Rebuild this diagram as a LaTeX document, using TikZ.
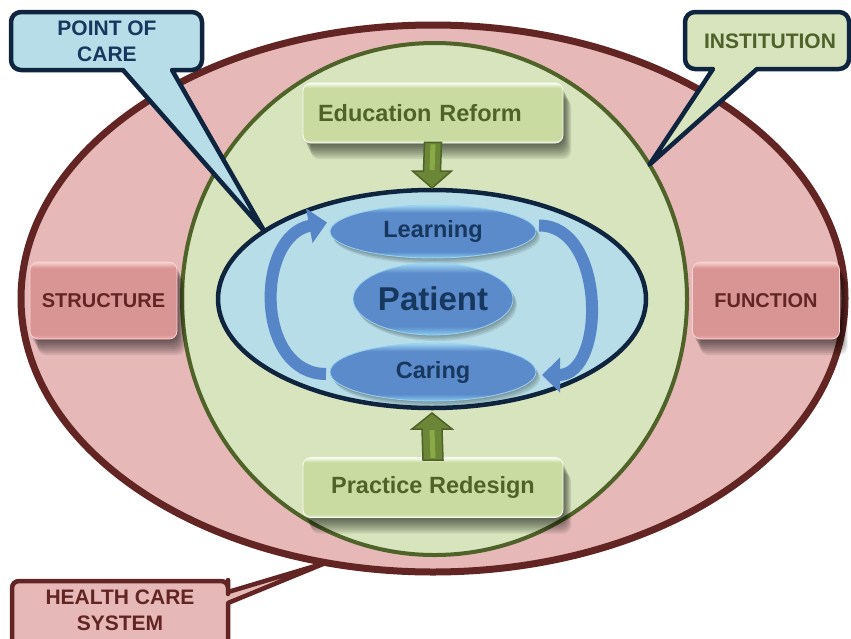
\documentclass[tikz,border=0pt]{standalone}
\usepackage{fontspec}
\setmainfont{Liberation Sans}
\usetikzlibrary{shapes.geometric,calc,arrows.meta}

\definecolor{redfill}{HTML}{E6B9B8}
\definecolor{redline}{HTML}{632523}
\definecolor{greenfill}{HTML}{D7E4BD}
\definecolor{greenline}{HTML}{4F6228}
\definecolor{bluefill}{HTML}{B7DEE8}
\definecolor{navy}{HTML}{0F243E}
\definecolor{navytext}{HTML}{17375E}
\definecolor{ovalmid}{HTML}{5B8BCA}
\definecolor{ovaltop}{HTML}{A3D8F3}
\definecolor{ovalbot}{HTML}{86CBF0}
\definecolor{ovaledge}{HTML}{9AD3F2}
\definecolor{gmid}{HTML}{C9DBA1}
\definecolor{gtop}{HTML}{F9FCF2}
\definecolor{gbot}{HTML}{E7F0D4}
\definecolor{rmid}{HTML}{D99594}
\definecolor{rtop}{HTML}{F8D3D2}
\definecolor{rbot}{HTML}{F2ADAC}
\definecolor{garrowfill}{HTML}{6A8636}
\definecolor{garrowlight}{HTML}{8AAA47}
\definecolor{curvearrow}{HTML}{5686C7}

\pgfdeclareverticalshading{ovalshade}{100bp}{color(0bp)=(ovalbot); color(25bp)=(ovalbot); color(31bp)=(ovalmid); color(68bp)=(ovalmid); color(75bp)=(ovaltop); color(100bp)=(ovaltop)}
\pgfdeclareverticalshading{greenshade}{100bp}{color(0bp)=(gbot); color(25bp)=(gbot); color(28bp)=(gmid); color(71bp)=(gmid); color(75bp)=(gtop); color(100bp)=(gtop)}
\pgfdeclareverticalshading{redshade}{100bp}{color(0bp)=(rbot); color(25bp)=(rbot); color(28bp)=(rmid); color(71bp)=(rmid); color(75bp)=(rtop); color(100bp)=(rtop)}

\begin{document}
\begin{tikzpicture}[x=1pt,y=-1pt,
  bigell/.style={ellipse, inner sep=0pt, outer sep=0pt},
  shstep/.style={preaction={fill=black, fill opacity=0.085, draw=none, transform canvas={shift={(#1)}}}},
  boxshadow/.style={shstep={1pt,-2pt}, shstep={2pt,-4pt}, shstep={3pt,-6pt}, shstep={4pt,-8pt},
    shstep={5pt,-10pt}, shstep={6pt,-12pt}, shstep={7pt,-14pt}, shstep={8pt,-16pt}},
  ovalshadow/.style={shstep={1pt,-1.5pt}, shstep={2pt,-3pt}, shstep={3pt,-4.5pt}, shstep={4pt,-6pt}},
  oval/.style={ellipse, ovalshadow, shading=ovalshade, draw=ovaledge, line width=0.8pt, inner sep=0pt, outer sep=0pt,
    text=navytext, font=\bfseries\fontsize{23.5}{28}\selectfont},
  gbox/.style={rounded corners=8pt, boxshadow, shading=greenshade, draw=gtop, line width=0.8pt, inner sep=0pt,
    minimum width=260pt, minimum height=60pt, text=greenline, font=\bfseries\fontsize{23.5}{28}\selectfont},
  rbox/.style={rounded corners=8pt, boxshadow, shading=redshade, draw=rtop, line width=0.8pt, inner sep=0pt,
    minimum width=147pt, minimum height=77pt, text=redline, font=\bfseries\fontsize{20}{24}\selectfont},
  callout/.style={line width=4.5pt, line join=round},
  calltext/.style={font=\bfseries\fontsize{21}{26}\selectfont, align=center},
  garrow/.style={fill=garrowfill, draw=greenline, line width=1.5pt, line join=miter},
  carrow/.style={draw=curvearrow, line width=12pt, -{Triangle[width=34pt,length=18pt]}}
]
\useasboundingbox (0,0) rectangle (851,638);
\clip (0,0) rectangle (851,638);
\fill[white] (0,0) rectangle (851,638);

% nested ellipses
\node[bigell, fill=redfill, draw=redline, line width=7pt, minimum width=824pt, minimum height=547pt] (hcs) at (433,298.5) {};
\node[bigell, fill=greenfill, draw=greenline, line width=4pt, minimum width=505pt, minimum height=512pt] (inst) at (434.5,299) {};
\node[bigell, fill=bluefill, draw=navy, line width=4.5pt, minimum width=428pt, minimum height=218pt] (poc) at (432,299) {};

% green boxes
\node[gbox, text width=230pt, align=left] (edu) at (433,113) {Education Reform};
\node[gbox] (prac) at (433,487.5) {Practice Redesign};

% green block arrows
\coordinate (ds) at (edu.south);
\coordinate (dt) at ($(poc.north)+(0,-2)$);
\draw[garrow] ($(ds)+(-8.5,-1)$) -- ($(dt)+(-8.5,-17)$) -- ($(dt)+(-19.5,-17)$) -- (dt)
  -- ($(dt)+(19.5,-17)$) -- ($(dt)+(8.5,-17)$) -- ($(ds)+(8.5,-1)$) -- cycle;
\draw[garrowlight, line width=5pt] ($(ds)+(0,1)$) -- ($(dt)+(0,-18)$);

\coordinate (us) at ($(prac.north)+(0,3)$);
\coordinate (ut) at ($(poc.south)+(0,5)$);
\draw[garrow] ($(us)+(-10,0)$) -- ($(ut)+(-10,16)$) -- ($(ut)+(-20,16)$) -- (ut)
  -- ($(ut)+(20,16)$) -- ($(ut)+(10,16)$) -- ($(us)+(10,0)$) -- cycle;
\draw[garrowlight, line width=5pt] ($(us)+(0,-2)$) -- ($(ut)+(0,17)$);

% red boxes
\node[rbox] (struct) at (103.5,300.5) {STRUCTURE};
\node[rbox] (func) at (766,300.5) {FUNCTION};

% inner ovals
\node[oval, minimum width=206pt, minimum height=53pt] (learn) at (433,231.5) {Learning};
\node[oval, minimum width=160pt, minimum height=72pt, font=\bfseries\fontsize{33}{38}\selectfont] (pat) at (433,299) {Patient};
\node[oval, minimum width=206pt, minimum height=58pt] (care) at (433,372) {Caring};

% curved cycle arrows
\draw[carrow] ($(care.west)+(-4,2)$) .. controls (255,374) and (255,236) .. ($(learn.west)+(-3,-9)$);
\draw[carrow] ($(learn.east)+(3,-6)$) .. controls (606,225) and (606,375) .. ($(care.east)+(6,3)$);

% callout: POINT OF CARE
\draw[callout, fill=bluefill, draw=navy] (poc.158.7) -- (172,70) -- (185,70) [rounded corners=10pt] -- (202,70)
  -- (202,12) -- (11,12) -- (11,70) -- (60,70) [sharp corners] -- (123,70) -- cycle;
\node[calltext, text=navytext] (poctext) at (107,41.5) {POINT OF\\CARE};

% callout: INSTITUTION
\draw[callout, fill=greenfill, draw=navy] (inst.32.6) -- (713,69) -- (700,69) [rounded corners=10pt] -- (685,69)
  -- (685,12) -- (849,12) -- (849,69) -- (790,69) [sharp corners] -- (757,69) -- cycle;
\node[calltext, text=greenline] (insttext) at (770,41) {INSTITUTION};

% callout: HEALTH CARE SYSTEM
\draw[callout, fill=redfill, draw=redline] (hcs.248.6) -- (228,603) -- (228,620) [rounded corners=7pt] -- (228,650)
  -- (12,650) -- (12,581) -- (228,581) -- (228,587) [sharp corners] -- (228,592) -- cycle;
\node[calltext, text=redline] (hcstext) at (120,610) {HEALTH CARE\\SYSTEM};
\end{tikzpicture}
\end{document}
